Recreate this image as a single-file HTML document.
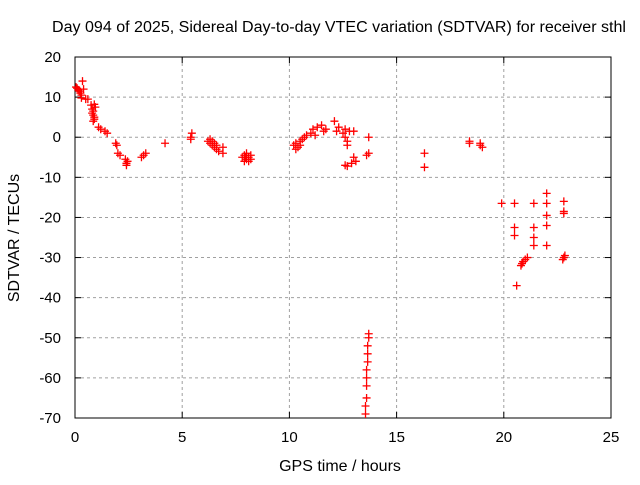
<!DOCTYPE html>
<html><head><meta charset="utf-8"><style>body{margin:0;background:#fff}svg text{font-family:"Liberation Sans",sans-serif;font-size:14px;fill:#000}</style></head>
<body>
<svg id="c" width="640" height="480"></svg>
<script>
const xs=[0.05,0.1,0.15,0.2,0.25,0.3,0.35,0.4,0.3,0.5,0.6,0.75,0.8,0.8,0.85,0.9,0.9,0.85,0.95,0.9,0.85,1.1,1.2,1.4,1.5,1.9,1.95,2.0,2.1,2.35,2.4,2.45,2.4,3.1,3.2,3.3,4.2,5.4,5.4,5.45,6.2,6.3,6.4,6.5,6.6,6.7,6.4,6.5,6.6,6.9,6.9,6.3,7.8,7.9,8.0,8.1,8.2,7.9,8.0,8.1,8.2,7.95,10.2,10.3,10.4,10.5,10.6,10.7,10.3,10.5,10.8,11.0,11.1,11.2,11.3,11.5,11.6,11.7,12.1,12.2,12.3,12.5,12.6,12.7,12.6,12.8,12.7,13.0,13.0,13.1,12.6,12.7,12.9,13.7,13.6,13.7,13.7,13.7,13.65,13.65,13.65,13.6,13.6,13.6,13.6,13.55,13.55,16.3,16.3,18.4,18.4,18.9,18.9,19.0,19.9,20.5,20.5,20.5,20.6,20.8,20.9,21.0,21.1,20.85,21.4,21.4,21.4,21.4,22,22,22,22,22,22.8,22.8,22.8,22.8,22.75,22.85];
const ys=[12.5,12.2,11.8,11.5,11,10.5,14,12,9.8,9.5,9.5,8,7,6,5.5,5,4.5,6.5,7.5,8.2,4,2.5,2,1.5,1,-1.5,-2,-4,-4.5,-5.5,-6.5,-6,-7,-5,-4.5,-4,-1.5,-0.5,0,1,-1,-1.5,-2,-2.5,-3,-3.5,-1,-1.5,-2,-2.5,-4,-0.5,-5,-4.5,-5.5,-5,-4.5,-6,-4,-6,-5.5,-5,-2,-1.5,-2.5,-1,-0.5,0,-3,-2,0.5,1,2,0.5,2.5,3,1.5,2,4,1.5,2.5,1,0,-1,2,1.5,-2,1.5,-5,-6,-7,-7.2,-6.5,0,-4.5,-4,-49,-50,-52,-54,-56,-58,-60,-62,-65,-67,-69,-4,-7.5,-1.5,-1,-2,-1.5,-2.5,-16.5,-16.5,-22.5,-24.5,-37,-32,-31,-30.5,-30,-31.5,-16.5,-22.5,-25,-27,-14,-16.5,-19.5,-22,-27,-16,-18.5,-19,-30,-30.5,-29.5];
const xTicks=[0,5,10,15,20,25];
const yTicks=[20,10,0,-10,-20,-30,-40,-50,-60,-70];
const L=75,R=611,T=57,B=418;
const X=v=>L+(v-0)/25*(R-L), Y=v=>T+(20-v)/90*(B-T);
const s=document.getElementById('c'),NS='http://www.w3.org/2000/svg';
function el(t,a,p){const e=document.createElementNS(NS,t);for(const k in a)e.setAttribute(k,a[k]);(p||s).appendChild(e);return e;}
let t=el('text',{x:52,y:32,textLength:574,lengthAdjust:'spacingAndGlyphs',style:'font-size:15.5px'});t.textContent='Day 094 of 2025, Sidereal Day-to-day VTEC variation (SDTVAR) for receiver sthl';


xTicks.forEach(v=>{const x=X(v);
 if(v>0&&v<25){const g=el('line',{x1:x,x2:x,y1:T,y2:B,stroke:'#a0a0a0','stroke-dasharray':'3,3'});}
 el('line',{x1:x,x2:x,y1:B,y2:B-6,stroke:'#000'});el('line',{x1:x,x2:x,y1:T,y2:T+6,stroke:'#000'});
 const l=el('text',{x:x,y:B+24,'text-anchor':'middle',style:'font-size:15px'});l.textContent=v;});
yTicks.forEach(v=>{const y=Y(v);
 if(v<20&&v>-70){const g=el('line',{x1:L,x2:R,y1:y,y2:y,stroke:'#a0a0a0','stroke-dasharray':'3,3'});}
 el('line',{x1:L,x2:L+6,y1:y,y2:y,stroke:'#000'});el('line',{x1:R,x2:R-6,y1:y,y2:y,stroke:'#000'});
 const l=el('text',{x:L-14,y:y+5,'text-anchor':'end',style:'font-size:15px'});l.textContent=v;});
const f=el('rect',{x:L,y:T,width:R-L,height:B-T,fill:'none',stroke:'#000','stroke-width':1});


let xl=el('text',{x:340,y:471,'text-anchor':'middle',style:'font-size:16px'});xl.textContent='GPS time / hours';


let yl=el('text',{x:19,y:238,'text-anchor':'middle',transform:'rotate(-90 19 238)',style:'font-size:16px'});yl.textContent='SDTVAR / TECUs';


const g=el('g',{stroke:'#ff0000','stroke-width':1.3});


xs.forEach((v,i)=>{const x=X(v),y=Y(ys[i]);
 const p=el('path',{d:`M${x-4},${y}H${x+4}M${x},${y-4}V${y+4}`},g);
 
 });
</script>
</body></html>
